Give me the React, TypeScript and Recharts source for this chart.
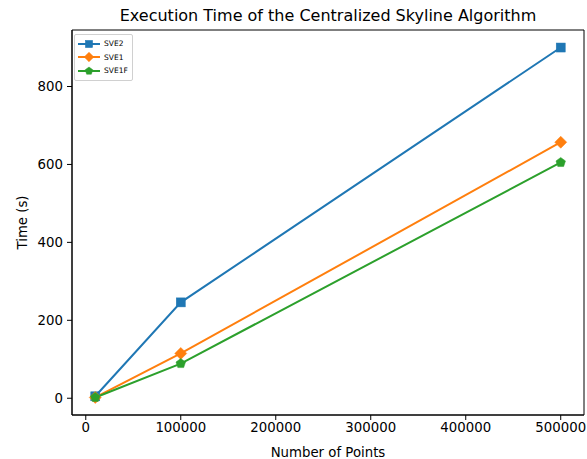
import React from "react";
import { LineChart, Line, XAxis, YAxis, Label, ReferenceArea } from "recharts";

const points = [10000, 100000, 500000];
const sve2 = [5, 246, 900];
const sve1 = [2, 115, 657];
const sve1f = [2, 89, 605];
const xTicks = [0, 100000, 200000, 300000, 400000, 500000];
const yTicks = [0, 200, 400, 600, 800];
const seriesNames = ["SVE2", "SVE1", "SVE1F"];
const colors = ["#1f77b4", "#ff7f0e", "#2ca02c"];

const data = points.map((p, i) => ({ x: p, SVE2: sve2[i], SVE1: sve1[i], SVE1F: sve1f[i] }));

const FONT = "DejaVu Sans, sans-serif";
const X_DOMAIN: [number, number] = [-14500, 524500];
const Y_DOMAIN: [number, number] = [-43, 945];

const marker = (kind: string, cx: number, cy: number, color: string, s = 1) => {
  if (kind === "s") {
    const h = 4.5 * s;
    return <rect x={cx - h} y={cy - h} width={2 * h} height={2 * h} fill={color} stroke={color} strokeWidth={0.5} />;
  }
  if (kind === "D") {
    const h = 6 * s;
    return <polygon points={`${cx},${cy - h} ${cx + h},${cy} ${cx},${cy + h} ${cx - h},${cy}`} fill={color} stroke={color} strokeWidth={0.5} />;
  }
  const r = 5 * s;
  const pts = [0, 1, 2, 3, 4]
    .map((k) => {
      const a = -Math.PI / 2 + (k * 2 * Math.PI) / 5;
      return `${cx + r * Math.cos(a)},${cy + r * Math.sin(a)}`;
    })
    .join(" ");
  return <polygon points={pts} fill={color} stroke={color} strokeWidth={0.5} />;
};

const kinds = ["s", "D", "p"];

const makeDot = (i: number) => (props: any) => {
  const { cx, cy, index } = props;
  return <g key={`d${i}-${index}`}>{marker(kinds[i], cx, cy, colors[i])}</g>;
};

const LegendBox = () => (
  <div
    style={{
      position: "absolute",
      left: 74,
      top: 34,
      border: "1px solid #d0d0d0",
      borderRadius: 2,
      background: "#fff",
      padding: "2px 4px 2px 3px",
      fontFamily: FONT,
      fontSize: 7.5,
      lineHeight: "13.5px",
      color: "#000",
    }}
  >
    {seriesNames.map((n, i) => (
      <div key={n} style={{ display: "flex", alignItems: "center" }}>
        <svg width={22} height={12} style={{ marginRight: 4 }}>
          <line x1={0} y1={6} x2={22} y2={6} stroke={colors[i]} strokeWidth={2} />
          {marker(kinds[i], 11, 6, colors[i], 0.8)}
        </svg>
        <span>{n}</span>
      </div>
    ))}
  </div>
);

export default function App() {
  return (
    <div style={{ position: "absolute", left: 0, top: 0, width: 587, height: 459, background: "#fff" }}>
      <div
        style={{
          position: "absolute",
          left: 72,
          width: 512,
          top: 6,
          textAlign: "center",
          fontFamily: FONT,
          fontSize: 16,
          color: "#000",
          lineHeight: "20px",
        }}
      >
        Execution Time of the Centralized Skyline Algorithm
      </div>
      <LineChart width={587} height={459} data={data} margin={{ top: 30, right: 3, bottom: 0, left: 0 }}>
        <XAxis
          dataKey="x"
          type="number"
          domain={X_DOMAIN}
          ticks={xTicks}
          allowDataOverflow
          height={44}
          tickSize={5}
          tickMargin={3}
          stroke="#000"
          tick={{ fill: "#000", fontSize: 13.3, fontFamily: FONT }}
          tickLine={{ stroke: "#000" }}
          axisLine={{ stroke: "#000" }}
        >
          <Label value="Number of Points" position="insideBottom" offset={2} style={{ fill: "#000", fontSize: 13.3, fontFamily: FONT }} />
        </XAxis>
        <YAxis
          type="number"
          domain={Y_DOMAIN}
          ticks={yTicks}
          allowDataOverflow
          width={72}
          tickSize={5}
          tickMargin={4}
          stroke="#000"
          tick={{ fill: "#000", fontSize: 13.3, fontFamily: FONT }}
          tickLine={{ stroke: "#000" }}
          axisLine={{ stroke: "#000" }}
        >
          <Label value="Time (s)" angle={-90} position="insideLeft" offset={22} style={{ textAnchor: "middle", fill: "#000", fontSize: 13.3, fontFamily: FONT }} />
        </YAxis>
        <ReferenceArea
          x1={X_DOMAIN[0]}
          x2={X_DOMAIN[1]}
          y1={Y_DOMAIN[0]}
          y2={Y_DOMAIN[1]}
          fill="none"
          fillOpacity={0}
          stroke="#000"
          strokeOpacity={1}
          strokeWidth={1}
          ifOverflow="extendDomain"
        />
        {seriesNames.map((n, i) => (
          <Line
            key={n}
            dataKey={n}
            stroke={colors[i]}
            strokeWidth={2}
            dot={makeDot(i)}
            activeDot={false}
            isAnimationActive={false}
          />
        ))}
      </LineChart>
      <LegendBox />
    </div>
  );
}
